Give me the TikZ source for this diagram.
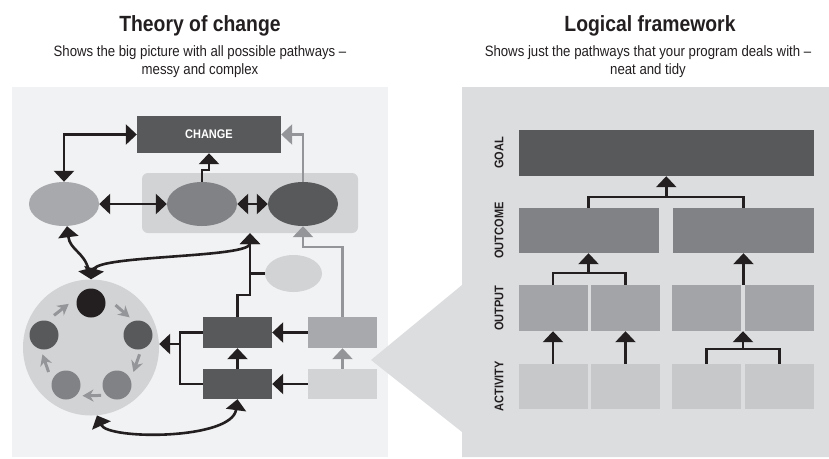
\documentclass[tikz,border=0pt]{standalone}
\usepackage{fontspec}
\setmainfont{Liberation Sans}[FakeStretch=0.88]
\usetikzlibrary{arrows.meta,calc,positioning,shapes.geometric}
\tikzset{>={Triangle[width=20pt,length=11pt]}}
\definecolor{k1}{HTML}{231F20}
\definecolor{d1}{HTML}{58595B}
\definecolor{m1}{HTML}{808285}
\definecolor{m2}{HTML}{A7A9AC}
\definecolor{o1}{HTML}{A2A4A7}
\definecolor{a1}{HTML}{C7C8CA}
\definecolor{l1}{HTML}{D1D3D4}
\definecolor{g1}{HTML}{939598}
\definecolor{bgl}{HTML}{F1F2F3}
\definecolor{bgr}{HTML}{DCDDDF}
\tikzstyle{title}=[inner sep=0pt,anchor=base,text=k1,font=\fontsize{22}{26}\selectfont\bfseries]
\tikzstyle{subtitle}=[inner sep=0pt,anchor=north,align=center,text=k1,font=\fontsize{15}{18}\selectfont]
\tikzstyle{box}=[rectangle,inner sep=0pt]
\tikzstyle{blob}=[ellipse,inner sep=0pt,minimum width=70pt,minimum height=44pt]
\tikzstyle{dot}=[circle,inner sep=0pt,minimum size=29pt]
\tikzstyle{row label}=[rotate=90,inner sep=0pt,text=k1,font=\fontsize{12.5}{13}\selectfont\bfseries]
\tikzstyle{link}=[k1,line width=2.6pt]
\tikzstyle{grey link}=[g1,line width=2.6pt]
\tikzstyle{cyc arrow}=[g1,line width=3pt,-{Stealth[length=11pt,width=12pt,inset=3.5pt]}]

\begin{document}
\begin{tikzpicture}[x=1pt,y=1pt]
  \useasboundingbox (0,0) rectangle (829,-458);
  % theory of change
  \fill[bgl] (12,-87) rectangle (388,-457);
  \node[title] (tocT) at (200,-31) {Theory of change};
  \node[subtitle] (tocS) at (200,-45) {Shows the big picture with all possible pathways --\\messy and complex};
  \node[box,fill=l1,rounded corners=6pt,minimum width=216pt,minimum height=60pt] (hub) at (250,-203) {};
  \node[box,fill=d1,minimum width=144pt,minimum height=37pt,text=white,
        font=\fontsize{12.5}{13}\selectfont\bfseries] (change) at (209,-134.5) {CHANGE};
  \node[blob,fill=m2] (ellA) at (64,-204) {};
  \node[blob,fill=m1] (ellB) at (202,-204) {};
  \node[blob,fill=d1] (ellC) at (303,-204) {};
  \node[blob,fill=l1,minimum width=57pt,minimum height=37pt] (ellD) at (293.5,-273.5) {};
  \node[circle,fill=l1,inner sep=0pt,minimum size=136pt] (cyc) at (91,-347.5) {};
  \node[dot,fill=k1] (dotA) at (91,-303) {};
  \node[dot,fill=d1] (dotB) at (138,-335) {};
  \node[dot,fill=m1] (dotC) at (117,-385) {};
  \node[dot,fill=m1] (dotD) at (66,-385) {};
  \node[dot,fill=d1] (dotE) at (44,-335) {};
  \foreach \a in {128,49,-19,-89,-161}
    \draw[cyc arrow] ([shift={(\a+11:49)}]cyc.center) -- ([shift={(\a-11:49)}]cyc.center);
  \node[box,fill=d1,minimum width=69pt,minimum height=31pt] (actB) at (237.5,-332.5) {};
  \node[box,fill=d1,minimum width=69pt,minimum height=30pt] (actA) at (237.5,-384) {};
  \node[box,fill=m2,minimum width=69pt,minimum height=31pt] (inU) at (342.5,-332.5) {};
  \node[box,fill=l1,minimum width=69pt,minimum height=30pt] (inL) at (342.5,-384) {};
  \coordinate (brk) at (180,-344);

  \draw[link,<->] (change.west) -| (ellA.north);
  \draw[link,<->] (ellA) -- (ellB);
  \draw[link,<->] (ellB) -- (ellC);
  \draw[link,->] (ellB.north) -- ++(0,12) -| (change.south);
  \draw[grey link,->] (ellC.north) |- (change.east);
  \draw[link,<->] ([xshift=3pt]ellA.south) .. controls (70,-250) and (84,-252) .. (cyc.north);
  \draw[link,<->] (cyc.north) .. controls (98,-255) and (250,-258) .. (hub.south);
  \draw[link,->] (actB.north) -- ++(0,22) -| (hub.south);
  \draw[link] (ellD.west) -- (ellD.west -| hub.south);
  \draw[grey link,->] (inU.north) -- ++(0,70) -| (ellC.south);
  \draw[link,->] (inU) -- (actB);
  \draw[link,->] (inL) -- (actA);
  \draw[grey link,->] (inL) -- (inU);
  \draw[link,->] (actA) -- (actB);
  \draw[link] (actB.west) -| (brk) |- (actA.west);
  \draw[link,->] (brk) -- (brk -| cyc.east);
  \draw[link,<->] (cyc.-85) .. controls (108,-440) and (232,-440) .. (actA.south);

  % logical framework
  \fill[bgr] (829,-87) -- (462,-87) -- (462,-285) -- (371,-360) -- (462,-432)
             -- (462,-457) -- (829,-457) -- cycle;
  \node[title] (lfT) at (650,-31) {Logical framework};
  \node[subtitle] (lfS) at (648,-45) {Shows just the pathways that your program deals with --\\neat and tidy};
  \node[box,fill=d1,minimum width=295.5pt,minimum height=46pt] (goal) at (666.25,-153) {};
  \node[box,fill=m1,minimum width=140pt,minimum height=45pt] (ocA) at (588.5,-230.5) {};
  \node[box,fill=m1,minimum width=141pt,minimum height=45pt] (ocB) at (743.5,-230.5) {};
  \foreach \n/\x in {A/553,B/625.5,C/706.5,D/779.5}{
    \node[box,fill=o1,minimum width=69pt,minimum height=46pt] (op\n) at (\x,-308) {};
    \node[box,fill=a1,minimum width=69pt,minimum height=45pt] (ac\n) at (\x,-386.5) {};
  }
  \node[row label] (lbGoal) at (499,-153) {GOAL};
  \node[row label] (lbOutcome) at (499,-230.5) {OUTCOME};
  \node[row label] (lbOutput) at (499,-308) {OUTPUT};
  \node[row label] (lbActivity) at (499,-386.5) {ACTIVITY};

  \draw[link] (ocA.north) -- ++(0,11) -| (ocB.north);
  \coordinate (jGoal) at ([yshift=-21pt]goal.south);
  \draw[link,->] (jGoal) -- (goal.south);
  \draw[link] (opA.north) -- ++(0,12) -| (opB.north);
  \coordinate (jOcA) at ([yshift=-20pt]ocA.south);
  \draw[link,->] (jOcA) -- (ocA.south);
  \draw[link,->] (ocB.south |- opC.north) -- (ocB.south);
  \draw[link,->] (acA) -- (opA);
  \draw[link,->] (acB) -- (opB);
  \draw[link] (acC.north) -- ++(0,15) -| (acD.north);
  \coordinate (jOpC) at ($(acC.north)!0.5!(acD.north)+(0,15)$);
  \draw[link,->] (jOpC) -- (jOpC |- opC.south);
\end{tikzpicture}
\end{document}
